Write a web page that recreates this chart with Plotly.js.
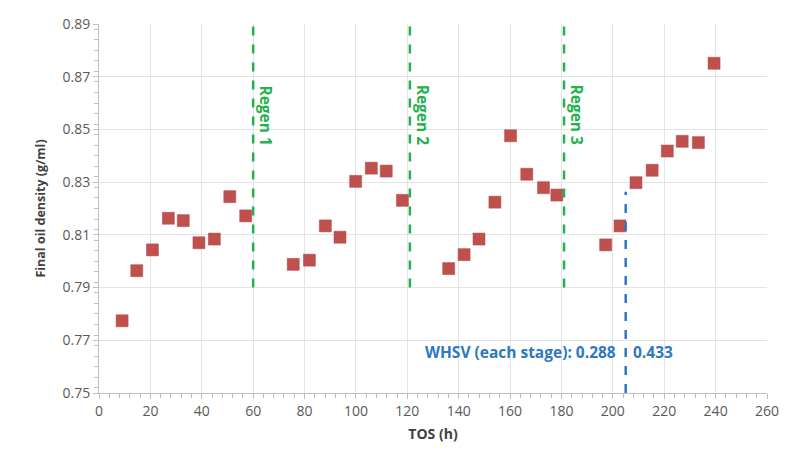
<!DOCTYPE html>
<html>
<head>
<meta charset="utf-8">
<script src="https://cdn.plot.ly/plotly-3.0.1.min.js"></script>
<style>html,body{margin:0;padding:0;background:#fff;}#chart{width:795px;height:455px;}</style>
</head>
<body>
<div id="chart"></div>
<script>
// Data
const tosHours = [9, 14.7, 20.8, 27, 32.8, 38.9, 44.9, 50.9, 57.1,
  75.6, 81.9, 88.1, 93.8, 99.9, 106, 111.8, 118.1,
  136.1, 142.1, 147.9, 154.1, 160.2, 166.5, 173, 178.2,
  197.2, 202.8, 209, 215.3, 221.2, 227, 233.3, 239.4];
const oilDensity = [0.7774, 0.7964, 0.8043, 0.8163, 0.8154, 0.8070, 0.8084, 0.8245, 0.8172,
  0.7988, 0.8004, 0.8134, 0.8091, 0.8303, 0.8353, 0.8342, 0.8231,
  0.7972, 0.8025, 0.8084, 0.8224, 0.8476, 0.8330, 0.8279, 0.8251,
  0.8062, 0.8134, 0.8298, 0.8345, 0.8418, 0.8455, 0.8450, 0.8751];
const regenTimes = [60, 121, 181];
const regenLabels = ["Regen 1", "Regen 2", "Regen 3"];
const regenLineRange = [0.79, 0.89];
const whsvChangeTime = 205;
const whsvLineRange = [0.75, 0.8264];
const whsvLabels = ["WHSV (each stage): 0.288", "0.433"];
const xTicks = [0, 20, 40, 60, 80, 100, 120, 140, 160, 180, 200, 220, 240, 260];
const yTicks = [0.75, 0.77, 0.79, 0.81, 0.83, 0.85, 0.87, 0.89];

const green = "#22B14C";
const blue = "#2E78C2";

const shapes = regenTimes.map(t => ({
  type: "line", xref: "x", yref: "y", x0: t, x1: t, y0: regenLineRange[0], y1: regenLineRange[1],
  line: {color: green, width: 2.5, dash: "dash"}
}));
shapes.push({
  type: "line", xref: "x", yref: "y", x0: whsvChangeTime, x1: whsvChangeTime,
  y0: whsvLineRange[0], y1: whsvLineRange[1],
  line: {color: blue, width: 2.5, dash: "dash"}
});

const annotations = regenTimes.map((t, i) => ({
  x: t + 5.2, y: 0.8555, xref: "x", yref: "y", text: "<b>" + regenLabels[i] + "</b>",
  showarrow: false, textangle: 90, font: {family: "Open Sans", size: 15.5, color: green}
}));
annotations.push({
  x: whsvChangeTime - 3, y: 0.7656, xref: "x", yref: "y", xanchor: "right",
  text: "<b>" + whsvLabels[0] + "</b>", showarrow: false,
  font: {family: "Open Sans", size: 15.5, color: blue}
});
annotations.push({
  x: whsvChangeTime + 2, y: 0.7656, xref: "x", yref: "y", xanchor: "left",
  text: "<b>" + whsvLabels[1] + "</b>", showarrow: false,
  font: {family: "Open Sans", size: 15.5, color: blue}
});

const trace = {
  x: tosHours, y: oilDensity, type: "scatter", mode: "markers",
  marker: {symbol: "square", size: 12, color: "#C0504D", line: {color: "#B04643", width: 0.5}},
  showlegend: false, hoverinfo: "x+y"
};

const layout = {
  width: 795, height: 455,
  margin: {l: 99, r: 28, t: 24, b: 62},
  paper_bgcolor: "#fff", plot_bgcolor: "#fff",
  font: {family: "Open Sans", color: "#595959"},
  xaxis: {
    range: [0, 260], tickvals: xTicks, ticktext: xTicks.map(String),
    showgrid: true, gridcolor: "#E4E4E4", gridwidth: 1, zeroline: false,
    showline: true, linecolor: "#BFBFBF", linewidth: 1,
    ticks: "outside", ticklen: 5, tickcolor: "#BFBFBF",
    minor: {dtick: 4, ticks: "outside", ticklen: 4, tickcolor: "#BFBFBF", showgrid: false},
    tickfont: {size: 14, color: "#595959"},
    title: {text: "<b>TOS (h)</b>", font: {size: 14, color: "#404040"}, standoff: 10}
  },
  yaxis: {
    range: [0.75, 0.89], tickvals: yTicks, ticktext: yTicks.map(v => v.toFixed(2)),
    showgrid: true, gridcolor: "#E4E4E4", gridwidth: 1, zeroline: false,
    showline: true, linecolor: "#BFBFBF", linewidth: 1,
    ticks: "outside", ticklen: 5, tickcolor: "#BFBFBF",
    minor: {dtick: 0.004, ticks: "outside", ticklen: 4, tickcolor: "#BFBFBF", showgrid: false},
    tickfont: {size: 14, color: "#595959"},
    title: {text: "<b>Final oil density (g/ml)</b>", font: {size: 12.5, color: "#404040"}, standoff: 14}
  },
  shapes: shapes,
  annotations: annotations
};

Plotly.newPlot("chart", [trace], layout, {displayModeBar: false, staticPlot: true});
</script>
</body>
</html>
